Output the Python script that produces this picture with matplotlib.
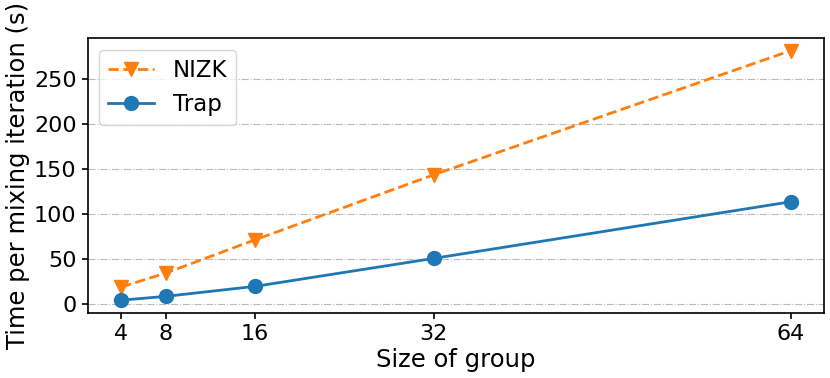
import matplotlib
matplotlib.use("Agg")
import matplotlib.pyplot as plt

group_sizes = [4, 8, 16, 32, 64]
nizk = [18.9, 34.4, 71.4, 143.7, 281.8]
trap = [4.2, 8.5, 19.6, 50.7, 113.7]
yticks = [0, 50, 100, 150, 200, 250]

plt.rcParams['font.size'] = 16
fig = plt.figure(figsize=(8.3, 3.78), dpi=100)
ax = fig.add_axes([0.1057, 0.1728, 0.993 - 0.1057, 0.899 - 0.1728])
ax.plot(group_sizes, nizk, '--v', color='#ff7f0e', markersize=10, linewidth=2, label='NIZK')
ax.plot(group_sizes, trap, '-o', color='#1f77b4', markersize=10, linewidth=2, label='Trap')
ax.set_xticks(group_sizes)
ax.set_yticks(yticks)
ax.yaxis.grid(True, linestyle='-.', color='#bbbbbb')
ax.set_axisbelow(True)
for s in ax.spines.values():
    s.set_linewidth(1.2)
ax.tick_params(width=1.2, length=4.5, labelsize=16)
ax.set_xlabel('Size of group', fontsize=17.5, labelpad=3)
ax.set_ylabel('Time per mixing iteration (s)', fontsize=17.5, labelpad=3)
ax.legend(loc='upper left', fontsize=16.5)
fig.savefig('out.png', dpi=100)
